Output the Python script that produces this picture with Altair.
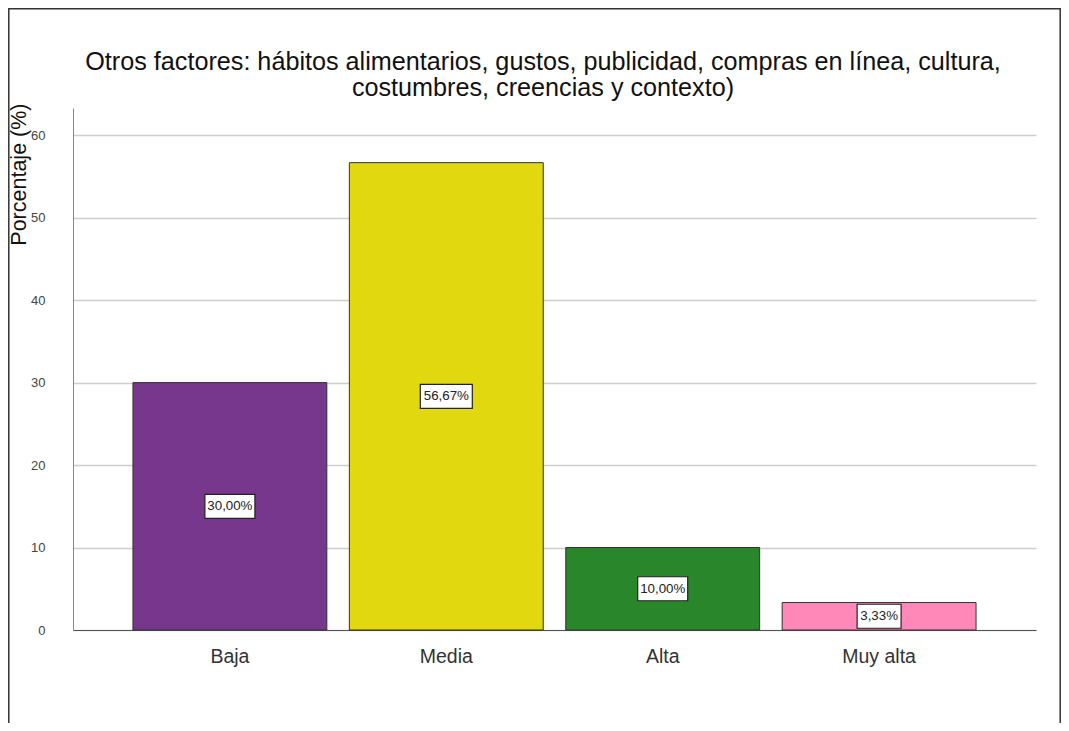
import altair as alt
import pandas as pd

categories = ["Baja", "Media", "Alta", "Muy alta"]
values = [30.00, 56.67, 10.00, 3.33]
colors = ["#76378C", "#E1D810", "#2A862A", "#FF88B8"]
box_widths = [50, 52, 50, 44]
y_ticks = [0, 10, 20, 30, 40, 50, 60]
title_lines = [
    "Otros factores: hábitos alimentarios, gustos, publicidad, compras en línea, cultura,",
    "costumbres, creencias y contexto)",
]

BOX_H = 24
labels = [("%.2f" % v).replace(".", ",") + "%" for v in values]
shapes = []
for w in box_widths:
    r = (BOX_H / 2) / (w / 2)
    shapes.append("M-1,-%.4fL1,-%.4fL1,%.4fL-1,%.4fZ" % (r, r, r, r))
df = pd.DataFrame({"cat": categories, "value": values, "label": labels,
                   "bw": [w * w for w in box_widths], "shp": shapes})
one = pd.DataFrame({"k": [0]})

W, H = 963, 522
FONT = "Liberation Sans"

x_scale = alt.Scale(domain=categories, paddingInner=0.104, paddingOuter=0.277)
y_scale = alt.Scale(domain=[0, 63.3], nice=False)

bars = alt.Chart(df).mark_bar(stroke="#333333", strokeWidth=1).encode(
    x=alt.X("cat:N", sort=categories, scale=x_scale,
            axis=alt.Axis(title=None, labelAngle=0, labelFontSize=19.5, labelColor="#333333",
                          labelFont=FONT, labelPadding=17, ticks=False,
                          domainColor="#555555", domainWidth=1.2)),
    y=alt.Y("value:Q", scale=y_scale,
            axis=alt.Axis(title="Porcentaje (%)", values=y_ticks, ticks=False,
                          labelFontSize=13, labelColor="#444444", labelFont=FONT,
                          labelPadding=28, gridColor="#CDCDCD", gridWidth=1.5,
                          domainColor="#8A8A8A", titleFont=FONT, titleFontSize=21.5,
                          titleFontWeight="normal", titleColor="#111111",
                          titleAngle=-90, titleAlign="right", titleBaseline="middle",
                          titleX=-54, titleY=-5)),
    color=alt.Color("cat:N", sort=categories,
                    scale=alt.Scale(domain=categories, range=colors), legend=None),
)

boxes = alt.Chart(df).transform_calculate(mid="datum.value / 2").mark_point(
    filled=True, fill="white", stroke="#222222", strokeWidth=1.2, opacity=1
).encode(
    x=alt.X("cat:N", sort=categories, scale=x_scale),
    y=alt.Y("mid:Q", scale=y_scale),
    size=alt.Size("bw:Q", scale=None),
    shape=alt.Shape("shp:N", scale=None),
)

texts = alt.Chart(df).transform_calculate(mid="datum.value / 2").mark_text(
    fontSize=13.3, font=FONT, color="#222222", baseline="middle", align="center"
).encode(
    x=alt.X("cat:N", sort=categories, scale=x_scale),
    y=alt.Y("mid:Q", scale=y_scale),
    text="label:N",
)

title1 = alt.Chart(one).mark_text(fontSize=25.2, font=FONT, fontWeight="normal", color="#111111",
                                  baseline="middle", align="center").encode(
    x=alt.value(470), y=alt.value(-46), text=alt.value(title_lines[0]))
title2 = alt.Chart(one).mark_text(fontSize=25.2, font=FONT, fontWeight="normal", color="#111111",
                                  baseline="middle", align="center").encode(
    x=alt.value(470), y=alt.value(-20), text=alt.value(title_lines[1]))

border = alt.Chart(one).mark_rect(fill=None, stroke="#333333", strokeWidth=1.5, clip=False).encode(
    x=alt.value(-64.2), x2=alt.value(W + 24.2), y=alt.value(-99.2), y2=alt.value(H + 200)
)

chart = alt.layer(border, bars, boxes, texts, title1, title2).properties(
    width=W, height=H,
    autosize=alt.AutoSizeParams(type="none"),
    padding={"left": 65, "top": 100, "right": 25, "bottom": 93},
).configure(background="white").configure_view(strokeWidth=0, stroke="transparent")

chart.save("out.html", embed_options={"renderer": "svg", "actions": False})
